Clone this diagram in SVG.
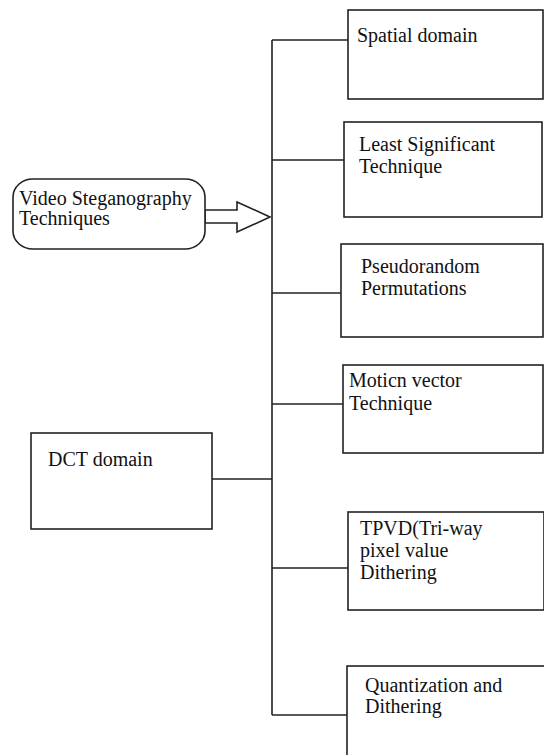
<svg xmlns="http://www.w3.org/2000/svg" width="544" height="755" viewBox="0 0 544 755">
<style>
.box{fill:#fff;stroke:#222;stroke-width:1.6}
.ln{fill:none;stroke:#222;stroke-width:1.6}
.t{font-family:'Liberation Serif','Times New Roman','DejaVu Serif',serif;font-size:20px;fill:#111}
</style>
<rect width="544" height="755" fill="#fff"/>
<g id="connectors">
<line class="ln" x1="272" y1="40" x2="272" y2="715"/>
<line class="ln" x1="272" y1="40" x2="348" y2="40"/>
<line class="ln" x1="272" y1="160" x2="344" y2="160"/>
<line class="ln" x1="272" y1="293" x2="341" y2="293"/>
<line class="ln" x1="272" y1="404" x2="343" y2="404"/>
<line class="ln" x1="212" y1="479" x2="272" y2="479"/>
<line class="ln" x1="272" y1="568" x2="348" y2="568"/>
<line class="ln" x1="272" y1="715" x2="347" y2="715"/>
<polygon class="box" points="205,210 237,210 237,202 270,217 237,232 237,223 205,223"/>
</g>
<g id="video">
<rect class="box" x="13" y="179" width="192" height="70" rx="20" ry="18"/>
<text class="t" x="19" y="205">Video Steganography</text>
<text class="t" x="19" y="225">Techniques</text>
</g>
<g id="spatial">
<rect class="box" x="348" y="10" width="195" height="89"/>
<text class="t" x="357" y="42">Spatial domain</text>
</g>
<g id="lsb">
<rect class="box" x="344" y="122" width="198" height="95"/>
<text class="t" x="359" y="151">Least Significant</text>
<text class="t" x="359" y="173">Technique</text>
</g>
<g id="pseudo">
<rect class="box" x="341" y="244" width="202" height="93"/>
<text class="t" x="361" y="273">Pseudorandom</text>
<text class="t" x="361" y="295">Permutations</text>
</g>
<g id="motion">
<rect class="box" x="343" y="365" width="200" height="88"/>
<text class="t" x="349" y="387">Moticn vector</text>
<text class="t" x="349" y="410">Technique</text>
</g>
<g id="dct">
<rect class="box" x="31" y="433" width="181" height="96"/>
<text class="t" x="48" y="466">DCT domain</text>
</g>
<g id="tpvd">
<rect class="box" x="348" y="512" width="196" height="98"/>
<text class="t" x="360" y="535">TPVD(Tri-way</text>
<text class="t" x="360" y="557">pixel value</text>
<text class="t" x="360" y="579">Dithering</text>
</g>
<g id="quant">
<rect class="box" x="347" y="666" width="220" height="120"/>
<text class="t" x="365" y="692">Quantization and</text>
<text class="t" x="365" y="713">Dithering</text>
</g>
</svg>
